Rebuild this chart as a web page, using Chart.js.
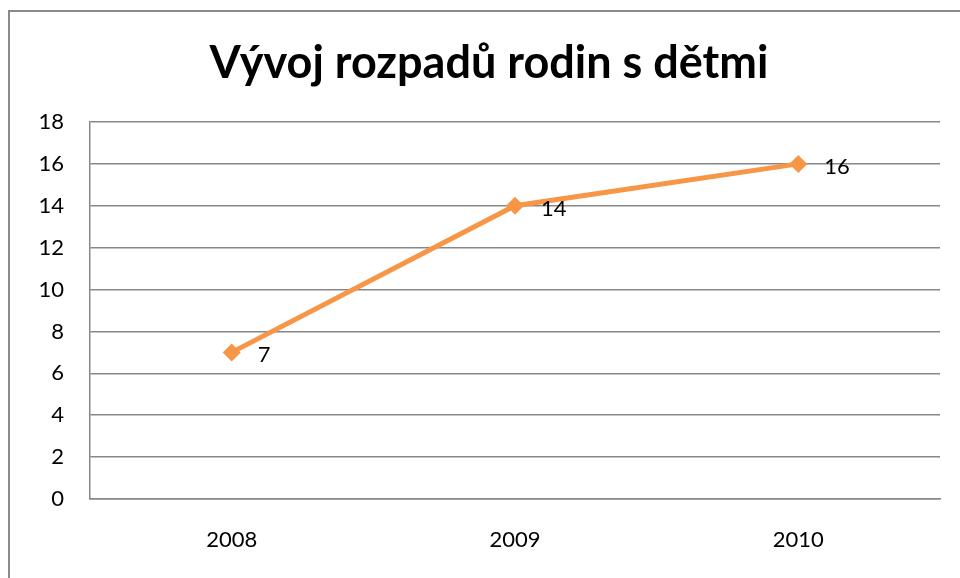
<!DOCTYPE html>
<html><head><meta charset="utf-8">
<script src="https://cdn.jsdelivr.net/npm/chart.js@4"></script>
<style>
html,body{margin:0;padding:0;background:#fff;overflow:hidden}
#frame{position:absolute;left:8px;top:10px;width:1000px;height:700px;border:2px solid #8a8a8a;box-sizing:border-box}
#wrap{position:absolute;left:0;top:0;width:960px;height:578px}
</style></head>
<body>
<div id="frame"></div>
<div id="wrap"><canvas id="c" width="960" height="578"></canvas></div>
<script>
const titleText = "Vývoj rozpadů rodin s dětmi";
const categories = ["2008", "2009", "2010"];
const values = [7, 14, 16];
const yTicks = [0, 2, 4, 6, 8, 10, 12, 14, 16, 18];

const FONT = "Lato, 'Open Sans', sans-serif";
const GRID = "#878787";
const ORANGE = "#F79646";

const extras = {
  id: "extras",
  afterDatasetsDraw(chart) {
    const ctx = chart.ctx;
    const meta = chart.getDatasetMeta(0);
    ctx.save();
    ctx.fillStyle = "#000";
    ctx.font = "22px " + FONT;
    ctx.textAlign = "left";
    ctx.textBaseline = "middle";
    meta.data.forEach((pt, i) => {
      ctx.fillText(String(values[i]), pt.x + 26, pt.y + 3);
    });
    ctx.font = "bold 45px " + FONT;
    ctx.textAlign = "center";
    ctx.textBaseline = "alphabetic";
    ctx.fillText(titleText, 489, 78);
    ctx.restore();
  }
};

new Chart(document.getElementById("c"), {
  type: "line",
  data: {
    labels: categories,
    datasets: [{
      data: values,
      borderColor: ORANGE,
      backgroundColor: ORANGE,
      borderWidth: 5,
      pointStyle: "rectRot",
      pointRadius: 9,
      pointBackgroundColor: ORANGE,
      pointBorderColor: ORANGE,
      pointBorderWidth: 0,
      tension: 0,
      fill: false
    }]
  },
  options: {
    responsive: false,
    animation: false,
    events: [],
    layout: { padding: { top: 122, right: 20, left: 0, bottom: 0 } },
    plugins: { legend: { display: false }, title: { display: false }, tooltip: { enabled: false } },
    scales: {
      y: {
        min: 0, max: 18,
        afterBuildTicks(scale) { scale.ticks = yTicks.map(v => ({ value: v })); },
        afterFit(scale) { scale.width = 90; },
        ticks: { font: { size: 22, family: FONT }, color: "#000", padding: 26 },
        grid: { color: GRID, lineWidth: 1.5, drawTicks: false },
        border: { color: GRID, width: 1.5 }
      },
      x: {
        offset: true,
        afterFit(scale) { scale.height = 79; },
        ticks: { font: { size: 22, family: FONT }, color: "#000", padding: 28, maxRotation: 0 },
        grid: { display: false, drawTicks: false },
        border: { color: GRID, width: 1.5 }
      }
    }
  },
  plugins: [extras]
});
</script>
</body></html>
